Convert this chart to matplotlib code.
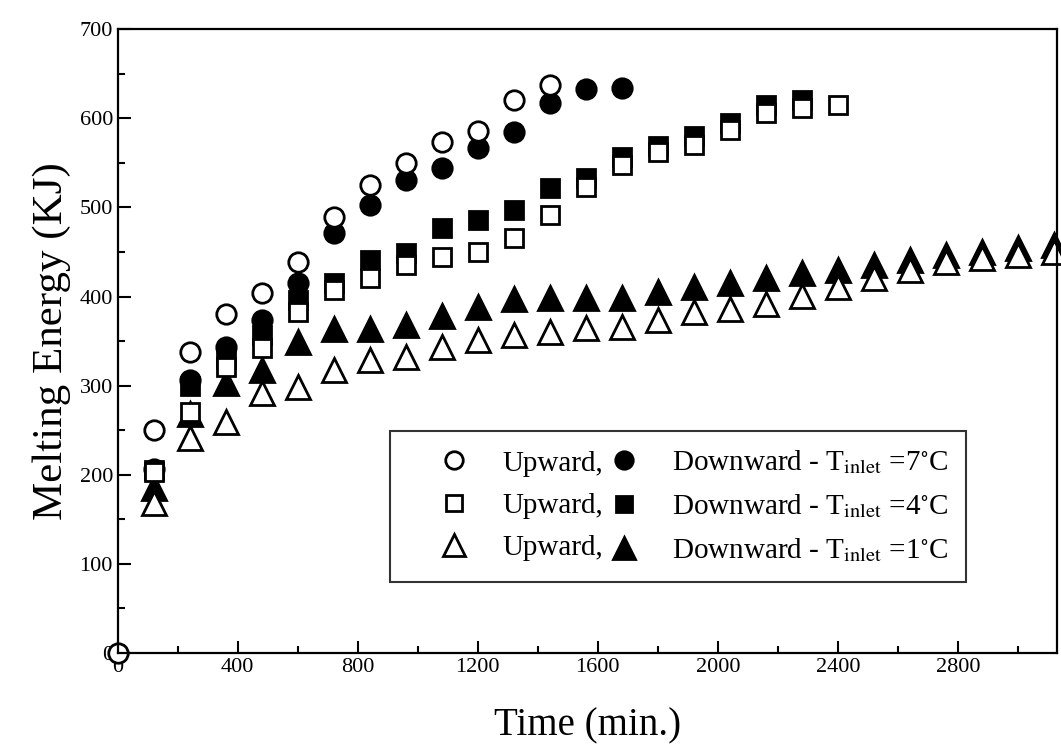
import matplotlib
matplotlib.use('Agg')
import matplotlib.pyplot as plt

plt.rcParams['font.family'] = 'serif'
plt.rcParams['font.serif'] = ['Liberation Serif', 'DejaVu Serif']
plt.rcParams['mathtext.fontset'] = 'stix'

# time (min) every 120 min
t_up7 = [0, 120, 240, 360, 480, 600, 720, 840, 960, 1080, 1200, 1320, 1440]
e_up7 = [0, 250, 338, 381, 404, 439, 489, 525, 550, 573, 586, 621, 637]

t_dn7 = [120, 240, 360, 480, 600, 720, 840, 960, 1080, 1200, 1320, 1440, 1560, 1680]
e_dn7 = [207, 306, 343, 374, 415, 471, 503, 531, 544, 567, 585, 617, 633, 634]

t_up4 = [120, 240, 360, 480, 600, 720, 840, 960, 1080, 1200, 1320, 1440, 1560,
         1680, 1800, 1920, 2040, 2160, 2280, 2400]
e_up4 = [203, 270, 321, 342, 383, 407, 421, 435, 444, 450, 466, 492, 523,
         548, 562, 570, 587, 606, 612, 615]

t_dn4 = [120, 240, 360, 480, 600, 720, 840, 960, 1080, 1200, 1320, 1440, 1560,
         1680, 1800, 1920, 2040, 2160, 2280]
e_dn4 = [205, 300, 330, 357, 396, 415, 441, 449, 477, 486, 497, 522, 533,
         557, 569, 580, 595, 615, 621]

t_up1 = [120, 240, 360, 480, 600, 720, 840, 960, 1080, 1200, 1320, 1440, 1560,
         1680, 1800, 1920, 2040, 2160, 2280, 2400, 2520, 2640, 2760, 2880, 3000, 3120]
e_up1 = [168, 241, 259, 292, 299, 318, 329, 332, 343, 351, 357, 360, 365,
         366, 374, 383, 386, 392, 401, 411, 421, 430, 439, 443, 447, 450]

t_dn1 = [120, 240, 360, 480, 600, 720, 840, 960, 1080, 1200, 1320, 1440, 1560,
         1680, 1800, 1920, 2040, 2160, 2280, 2400, 2520, 2640, 2760, 2880, 3000, 3120]
e_dn1 = [185, 268, 303, 318, 349, 364, 364, 368, 378, 388, 397, 398, 398,
         398, 405, 411, 415, 421, 426, 430, 435, 441, 447, 450, 455, 458]

fig = plt.figure(figsize=(10.61, 7.51), dpi=100)
ax = fig.add_axes([0.111, 0.1305, 0.885, 0.8305])

mew = 2.0
common = dict(linestyle='none', markeredgecolor='black', markeredgewidth=mew, clip_on=False)

# filled (downward) first, open (upward) on top
h_dn1, = ax.plot(t_dn1, e_dn1, marker='^', ms=17, color='black', markerfacecolor='black', **common)
h_dn4, = ax.plot(t_dn4, e_dn4, marker='s', ms=12.5, color='black', markerfacecolor='black', **common)
h_dn7, = ax.plot(t_dn7, e_dn7, marker='o', ms=14, color='black', markerfacecolor='black', **common)
h_up1, = ax.plot(t_up1, e_up1, marker='^', ms=17, color='black', markerfacecolor='white', **common)
h_up4, = ax.plot(t_up4, e_up4, marker='s', ms=12.5, color='black', markerfacecolor='white', **common)
h_up7, = ax.plot(t_up7, e_up7, marker='o', ms=14, color='black', markerfacecolor='white', **common)

ax.set_xlim(0, 3130)
ax.set_ylim(0, 700)
ax.set_xticks([0, 400, 800, 1200, 1600, 2000, 2400, 2800])
ax.set_xticks(range(200, 3130, 400), minor=True)
ax.set_yticks(range(0, 701, 100))
ax.set_yticks(range(50, 700, 100), minor=True)
ax.tick_params(which='both', direction='in', top=False, right=False, width=1.5)
ax.tick_params(which='major', length=9, labelsize=16)
ax.tick_params(which='minor', length=5)
for s in ax.spines.values():
    s.set_linewidth(1.6)

ax.set_xlabel('Time (min.)', fontsize=28, labelpad=22)
ax.set_ylabel('Melting Energy (KJ)', fontsize=31, labelpad=6)

labels = ['Upward,', 'Upward,', 'Upward,',
          r'Downward - T$_{\rm inlet}$ =7$^{\circ}$C',
          r'Downward - T$_{\rm inlet}$ =4$^{\circ}$C',
          r'Downward - T$_{\rm inlet}$ =1$^{\circ}$C']
leg = ax.legend([h_up7, h_up4, h_up1, h_dn7, h_dn4, h_dn1], labels, ncol=2,
                loc='lower left', bbox_to_anchor=(0.290, 0.114), borderaxespad=0,
                fontsize=21, frameon=True, fancybox=False, edgecolor='black',
                handlelength=3.2, handletextpad=0.05, columnspacing=-0.9,
                labelspacing=0.55, borderpad=0.6, markerscale=0.9)
leg.get_frame().set_linewidth(1.5)

fig.savefig('out.png', dpi=100)
